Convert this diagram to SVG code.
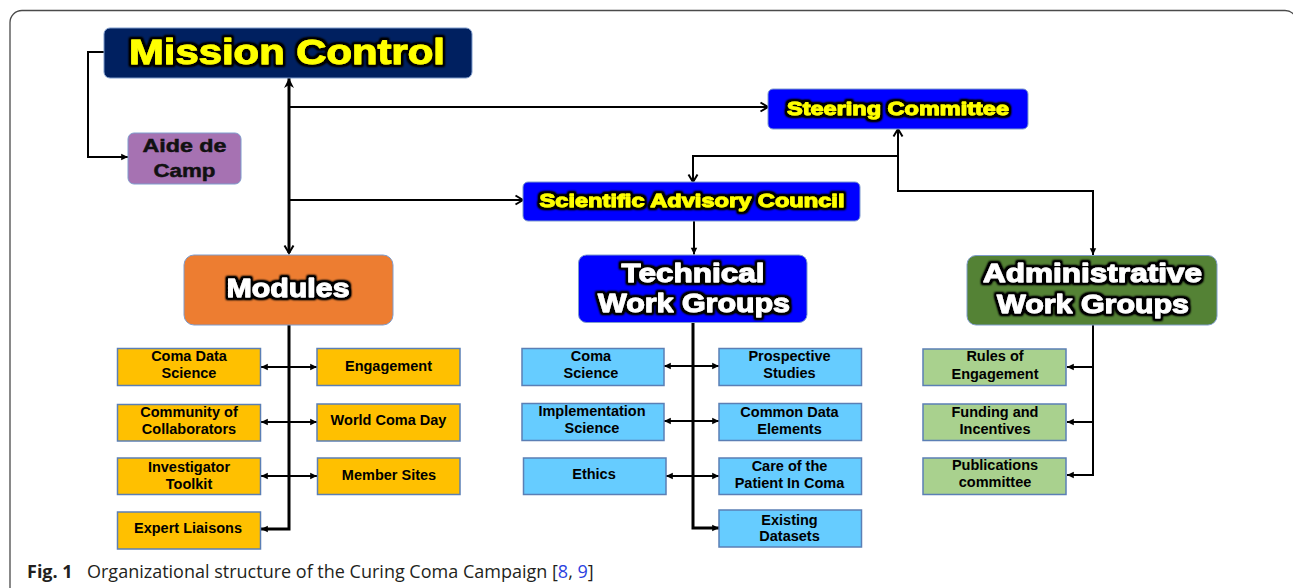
<svg xmlns="http://www.w3.org/2000/svg" width="1293" height="588" viewBox="0 0 1293 588">
  <defs>
    <!-- dark soft halo behind the heading lettering -->
    <filter id="halo" x="-15%" y="-40%" width="130%" height="180%">
      <feMorphology in="SourceAlpha" operator="dilate" radius="1.6" result="grow"/>
      <feGaussianBlur in="grow" stdDeviation="1.1" result="soft"/>
      <feComponentTransfer in="soft" result="edge">
        <feFuncA type="linear" slope="1.8"/>
      </feComponentTransfer>
      <feMerge>
        <feMergeNode in="edge"/>
        <feMergeNode in="SourceGraphic"/>
      </feMerge>
    </filter>
    <marker id="chev" viewBox="0 0 12 12" markerWidth="12" markerHeight="12" refX="10.5" refY="6" orient="auto-start-reverse" markerUnits="userSpaceOnUse">
      <path d="M3,1.5 L10.5,6 L3,10.5" fill="none" stroke="#000" stroke-width="2"/>
    </marker>
    <marker id="stealth" viewBox="0 0 12 12" markerWidth="12" markerHeight="12" refX="11" refY="6" orient="auto-start-reverse" markerUnits="userSpaceOnUse">
      <path d="M1,1 L11,6 L1,11 L4,6 Z" fill="#000"/>
    </marker>
    <marker id="tri" viewBox="0 0 10 10" markerWidth="8" markerHeight="8" refX="9.5" refY="5" orient="auto-start-reverse" markerUnits="userSpaceOnUse">
      <path d="M1,1 L9.5,5 L1,9 Z" fill="#000"/>
    </marker>
  </defs>
  <style>
    .frame { fill: none; stroke: #4a4a4a; stroke-width: 1.3; }
    .big { stroke: #7f9ccc; stroke-width: 1; }
    .small { stroke: #5b7fb5; stroke-width: 1.5; }
    .head { font-family: "Liberation Sans", Arial, sans-serif; font-weight: bold; text-anchor: middle; filter: url(#halo); stroke-width: 0.9; stroke-linejoin: round; }
    .yel { fill: #ffff00; stroke: #ffff00; }
    .wht { fill: #ffffff; stroke: #ffffff; }
    .lbl { font-family: "Liberation Sans", Arial, sans-serif; font-weight: bold; font-size: 14.5px; fill: #000; text-anchor: middle; }
    .aide { font-family: "Liberation Sans", Arial, sans-serif; font-weight: bold; font-size: 19px; fill: #111; stroke: #111; stroke-width: 0.5; text-anchor: middle; }
    .ln { fill: none; stroke: #000; stroke-width: 2; }
    .thick { stroke-width: 3; }
    .cap { font-family: "Open Sans", "Noto Sans", sans-serif; font-size: 18px; fill: #231f20; }
    .link { fill: #2b3fe0; }
  </style>

  <rect width="1293" height="588" fill="#ffffff"/>
  <rect class="frame" x="10" y="10.5" width="1287" height="640" rx="12"/>

  <!-- connectors -->
  <g id="connectors">
    <path class="ln" d="M104,52 H88 V157 H128" marker-end="url(#tri)"/>
    <path class="ln thick" d="M289,78 V253" marker-start="url(#stealth)" marker-end="url(#chev)"/>
    <path class="ln" d="M289,107 H768" marker-end="url(#chev)"/>
    <path class="ln" d="M289,200 H523" marker-end="url(#chev)"/>
    <path class="ln" d="M898,156 H693 V182" marker-end="url(#chev)"/>
    <path class="ln" d="M898,129 V191 H1093 V255" marker-start="url(#chev)" marker-end="url(#tri)"/>
    <path class="ln" d="M694,221 V254.5" marker-end="url(#tri)"/>

    <!-- Modules branch -->
    <path class="ln thick" d="M289,325 V529 H261" marker-end="url(#tri)"/>
    <path class="ln" d="M261,367 H317" marker-start="url(#tri)" marker-end="url(#tri)"/>
    <path class="ln" d="M261,422 H317" marker-start="url(#tri)" marker-end="url(#tri)"/>
    <path class="ln" d="M261,476 H317" marker-start="url(#tri)" marker-end="url(#tri)"/>

    <!-- Technical branch -->
    <path class="ln thick" d="M693,322.5 V528 H719" marker-end="url(#tri)"/>
    <path class="ln" d="M664,366 H719" marker-start="url(#tri)" marker-end="url(#tri)"/>
    <path class="ln" d="M664,421 H719" marker-start="url(#tri)" marker-end="url(#tri)"/>
    <path class="ln" d="M666,476 H719" marker-start="url(#tri)" marker-end="url(#tri)"/>

    <!-- Administrative branch -->
    <path class="ln" d="M1093,325 V475 H1067" marker-end="url(#tri)"/>
    <path class="ln" d="M1093,367 H1067" marker-end="url(#tri)"/>
    <path class="ln" d="M1093,422 H1067" marker-end="url(#tri)"/>
  </g>

  <!-- top level -->
  <g id="mission-control">
    <rect class="big" x="104" y="28" width="368" height="50" rx="6" fill="#002060"/>
    <text class="head yel" x="287" y="64" font-size="35" textLength="316" lengthAdjust="spacingAndGlyphs">Mission Control</text>
  </g>
  <g id="aide-de-camp">
    <rect class="big" x="128" y="133" width="113" height="51" rx="6" fill="#a672b2"/>
    <text class="aide" x="184.5" y="151.5" textLength="84" lengthAdjust="spacingAndGlyphs">Aide de</text>
    <text class="aide" x="184.5" y="176.5" textLength="62" lengthAdjust="spacingAndGlyphs">Camp</text>
  </g>
  <g id="steering-committee">
    <rect class="big" x="768" y="89" width="260" height="40" rx="5" fill="#0000ff"/>
    <text class="head yel" x="898" y="114.5" font-size="18.5" textLength="222" lengthAdjust="spacingAndGlyphs">Steering Committee</text>
  </g>
  <g id="scientific-advisory-council">
    <rect class="big" x="523" y="182" width="337" height="39" rx="5" fill="#0000ff"/>
    <text class="head yel" x="692" y="207" font-size="18.5" textLength="305" lengthAdjust="spacingAndGlyphs">Scientific Advisory Council</text>
  </g>

  <!-- work group heads -->
  <g id="modules">
    <rect class="big" x="184" y="255" width="209" height="70" rx="10" fill="#ed7d31"/>
    <text class="head wht" x="288" y="297" font-size="26" textLength="123" lengthAdjust="spacingAndGlyphs">Modules</text>
  </g>
  <g id="technical-work-groups">
    <rect class="big" x="578.5" y="255" width="228.5" height="67.5" rx="8" fill="#0000ff"/>
    <text class="head wht" x="693" y="281.5" font-size="25" textLength="143" lengthAdjust="spacingAndGlyphs">Technical</text>
    <text class="head wht" x="694" y="312" font-size="25" textLength="192" lengthAdjust="spacingAndGlyphs">Work Groups</text>
  </g>
  <g id="administrative-work-groups">
    <rect class="big" x="967" y="255.5" width="250" height="69.5" rx="9" fill="#548235"/>
    <text class="head wht" x="1092.5" y="282" font-size="25" textLength="219" lengthAdjust="spacingAndGlyphs">Administrative</text>
    <text class="head wht" x="1093" y="313" font-size="25" textLength="192" lengthAdjust="spacingAndGlyphs">Work Groups</text>
  </g>

  <!-- modules -->
  <g id="coma-data-science">
    <rect class="small" x="117.5" y="348.5" width="143" height="37" fill="#ffc000"/>
    <text class="lbl" x="189" y="361">Coma Data</text>
    <text class="lbl" x="189" y="378">Science</text>
  </g>
  <g id="community-of-collaborators">
    <rect class="small" x="117.5" y="404.5" width="143" height="36.5" fill="#ffc000"/>
    <text class="lbl" x="189" y="417">Community of</text>
    <text class="lbl" x="189" y="434">Collaborators</text>
  </g>
  <g id="investigator-toolkit">
    <rect class="small" x="117.5" y="458" width="143" height="36.5" fill="#ffc000"/>
    <text class="lbl" x="189" y="471.5">Investigator</text>
    <text class="lbl" x="189" y="488.5">Toolkit</text>
  </g>
  <g id="expert-liaisons">
    <rect class="small" x="117.5" y="512" width="143" height="37" fill="#ffc000"/>
    <text class="lbl" x="188" y="533">Expert Liaisons</text>
  </g>
  <g id="engagement">
    <rect class="small" x="317" y="348.5" width="143" height="37" fill="#ffc000"/>
    <text class="lbl" x="388.5" y="370.5">Engagement</text>
  </g>
  <g id="world-coma-day">
    <rect class="small" x="317" y="404" width="143" height="37" fill="#ffc000"/>
    <text class="lbl" x="388.5" y="425">World Coma Day</text>
  </g>
  <g id="member-sites">
    <rect class="small" x="317.5" y="458" width="142.5" height="36.5" fill="#ffc000"/>
    <text class="lbl" x="389" y="479.5">Member Sites</text>
  </g>

  <!-- technical work groups -->
  <g id="coma-science">
    <rect class="small" x="522" y="348.5" width="142" height="37" fill="#66ccff"/>
    <text class="lbl" x="591" y="361">Coma</text>
    <text class="lbl" x="591" y="378">Science</text>
  </g>
  <g id="implementation-science">
    <rect class="small" x="522" y="403.5" width="142" height="37" fill="#66ccff"/>
    <text class="lbl" x="592" y="416">Implementation</text>
    <text class="lbl" x="592" y="433">Science</text>
  </g>
  <g id="ethics">
    <rect class="small" x="523.5" y="458" width="142.5" height="36.5" fill="#66ccff"/>
    <text class="lbl" x="594" y="479">Ethics</text>
  </g>
  <g id="prospective-studies">
    <rect class="small" x="719" y="348.5" width="142.5" height="37" fill="#66ccff"/>
    <text class="lbl" x="789.5" y="361">Prospective</text>
    <text class="lbl" x="789.5" y="378">Studies</text>
  </g>
  <g id="common-data-elements">
    <rect class="small" x="719" y="403.5" width="142.5" height="37" fill="#66ccff"/>
    <text class="lbl" x="789.5" y="416.5">Common Data</text>
    <text class="lbl" x="789.5" y="433.5">Elements</text>
  </g>
  <g id="care-of-the-patient">
    <rect class="small" x="719" y="458" width="142.5" height="36.5" fill="#66ccff"/>
    <text class="lbl" x="789.5" y="470.5">Care of the</text>
    <text class="lbl" x="789.5" y="487.5">Patient In Coma</text>
  </g>
  <g id="existing-datasets">
    <rect class="small" x="719" y="510" width="142.5" height="37" fill="#66ccff"/>
    <text class="lbl" x="789.5" y="524.5">Existing</text>
    <text class="lbl" x="789.5" y="541">Datasets</text>
  </g>

  <!-- administrative work groups -->
  <g id="rules-of-engagement">
    <rect class="small" x="923" y="349" width="143" height="36.5" fill="#a9d18e"/>
    <text class="lbl" x="995" y="361">Rules of</text>
    <text class="lbl" x="995" y="378.5">Engagement</text>
  </g>
  <g id="funding-and-incentives">
    <rect class="small" x="923" y="404" width="143" height="36.5" fill="#a9d18e"/>
    <text class="lbl" x="995" y="416.5">Funding and</text>
    <text class="lbl" x="995" y="434">Incentives</text>
  </g>
  <g id="publications-committee">
    <rect class="small" x="923" y="458" width="143" height="36.5" fill="#a9d18e"/>
    <text class="lbl" x="995" y="470">Publications</text>
    <text class="lbl" x="995" y="487">committee</text>
  </g>

  <!-- caption -->
  <text class="cap" x="27" y="578" font-weight="bold">Fig. 1</text>
  <text class="cap" x="87" y="578">Organizational structure of the Curing Coma Campaign [<tspan class="link">8</tspan>, <tspan class="link">9</tspan>]</text>
</svg>
